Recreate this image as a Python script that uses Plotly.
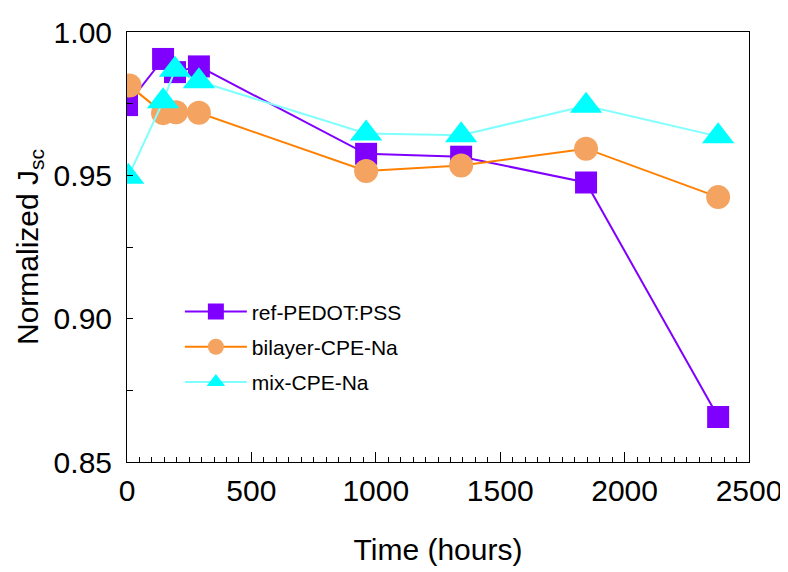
import plotly.graph_objects as go

ref_x = [0, 145, 193, 289, 961, 1343, 1845, 2376]
ref_y = [0.9745, 0.9906, 0.986, 0.988, 0.9575, 0.9565, 0.9475, 0.8657]

bil_x = [10, 145, 197, 289, 961, 1343, 1845, 2376]
bil_y = [0.9813, 0.9717, 0.972, 0.9718, 0.9515, 0.9534, 0.9593, 0.9424]

mix_x = [5, 145, 193, 289, 961, 1343, 1845, 2376]
mix_y = [0.9495, 0.9758, 0.9868, 0.9828, 0.9646, 0.9640, 0.9743, 0.9636]

font = "Liberation Sans, Arial, sans-serif"

fig = go.Figure()
fig.add_trace(go.Scatter(x=ref_x, y=ref_y, mode="lines+markers", name="ref-PEDOT:PSS",
                         legendgroup="a",
                         line=dict(color="#8000FF", width=2),
                         marker=dict(symbol="square", size=22, color="#8000FF")))
fig.add_trace(go.Scatter(x=bil_x, y=bil_y, mode="lines+markers", name="bilayer-CPE-Na",
                         legendgroup="b",
                         line=dict(color="#FF8000", width=2),
                         marker=dict(symbol="circle", size=24, color="#F4A460")))
fig.add_trace(go.Scatter(x=mix_x, y=mix_y, mode="lines+markers", name="mix-CPE-Na",
                         legendgroup="c",
                         line=dict(color="#80FFFF", width=2),
                         marker=dict(symbol="triangle-up", size=28, color="#00FFFF")))

fig.update_layout(
    width=780, height=564,
    margin=dict(l=119, r=39, t=24, b=110),
    plot_bgcolor="white", paper_bgcolor="white",
    font=dict(family=font, color="black"),
    legend=dict(x=0.085, y=0.397, xanchor="left", yanchor="top",
                bgcolor="rgba(0,0,0,0)", font=dict(size=21, family=font),
                tracegroupgap=5, itemwidth=62),
    showlegend=True,
)
fig.update_xaxes(range=[0, 2500], dtick=500, tick0=0, automargin=False,
                 showline=True, linecolor="black", linewidth=1, mirror=True,
                 ticks="inside", ticklen=10, tickcolor="black",
                 minor=dict(ticks="inside", dtick=50, ticklen=5, tickcolor="black"),
                 showgrid=False, zeroline=False,
                 tickfont=dict(size=30), ticklabelstandoff=2,
                 title=dict(text="Time (hours)", font=dict(size=30), standoff=32))
fig.update_yaxes(range=[0.85, 1.00], dtick=0.05, tick0=0.85, tickformat=".2f",
                 automargin=False,
                 showline=True, linecolor="black", linewidth=1, mirror=True,
                 ticks="inside", ticklen=6, tickcolor="black",
                 minor=dict(ticks="inside", dtick=0.025, ticklen=6, tickcolor="black"),
                 showgrid=False, zeroline=False,
                 tickfont=dict(size=30), ticklabelstandoff=8,
                 title=dict(text="Normalized J<sub>sc</sub>", font=dict(size=30), standoff=6))

fig.write_html("out.html")
